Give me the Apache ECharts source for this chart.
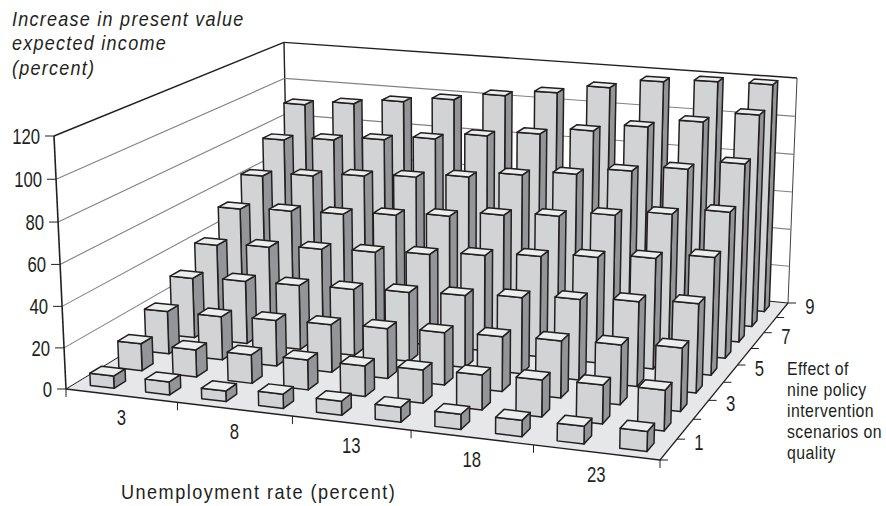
<!DOCTYPE html>
<html>
<head>
<meta charset="utf-8">
<style>
  html, body { margin: 0; padding: 0; background: #fff; }
  #chart { width: 886px; height: 506px; }
  /* canvas text has no tracking in zrender, so the svg text gets it here */
  #chart text[style*="italic"] { letter-spacing: 1.4px; }
  #chart text[style*="20.1px"] { letter-spacing: 1.65px; }
  #chart text[style*="18px"] { letter-spacing: 0.5px; }
</style>
<script src="https://cdn.jsdelivr.net/npm/echarts@6/dist/echarts.min.js"></script>
</head>
<body>
<div id="chart"></div>
<script>
const unemployment = [3, 5.5, 8, 10.5, 13, 15.5, 18, 20.5, 23, 25.5];
const scenarios = [1, 2, 3, 4, 5, 6, 7, 8, 9];
const xTickLabels = ['3', '8', '13', '18', '23'];
const yTicks = [0, 20, 40, 60, 80, 100, 120];
const depthTickLabels = ['1', '3', '5', '7', '9'];
const titleLines = ['Increase in present value', 'expected income', '(percent)'];
const depthTitleLines = ['Effect of', 'nine policy', 'intervention', 'scenarios on', 'quality'];

const scenario1 = [6, 6.3, 5.1, 6.8, 6.7, 7.1, 7.1, 7.6, 8.2, 9.2];
const scenario2 = [13.4, 13.4, 14, 14.6, 14.8, 16, 16.7, 17.5, 18.3, 19.1];
const scenario3 = [21.4, 21.7, 22.7, 23.6, 24.6, 25.6, 26.6, 27.6, 28.7, 30.3];
const scenario4 = [30.6, 31.8, 32.5, 33.3, 34.6, 35.9, 37.7, 39.6, 41.4, 43.3];
const scenario5 = [40.4, 42, 43.6, 44.7, 46.3, 48.4, 50.6, 52.8, 55, 58.1];
const scenario6 = [52.5, 53.9, 54.8, 56.8, 58.8, 61.8, 63.8, 66.8, 69.8, 73.3];
const scenario7 = [63.6, 66, 68.3, 70.1, 72.5, 75.9, 78.7, 82.6, 85.9, 90.8];
const scenario8 = [77, 79.2, 81.5, 84.2, 88, 91.2, 95, 99.2, 103.9, 109.6];
const scenario9 = [90.6, 93.2, 96.4, 99.5, 103.7, 107.3, 112, 117.1, 119.1, 119.6];
const scenarioValues = [scenario1, scenario2, scenario3, scenario4, scenario5, scenario6, scenario7, scenario8, scenario9];

const yMax = 120;
const INK = '#231f20';
const BAR_WIDTH = 0.043; // floor units along the front edge
const BAR_DEPTH = 0.045; // floor units into the page

// perspective of the box: u along the front edge, v into the page, h up, all 0..1
const persp = { u: -0.0759, v: 0.208, h: -0.0299 };
const corner = {
  origin: [66, 389],
  front: [660, 460],
  backFloor: [788, 303],
  top: [54, 136],
};
const axisX = {
  u: corner.front[0] * (1 + persp.u) - corner.origin[0],
  v: corner.backFloor[0] * (1 + persp.u + persp.v) - corner.front[0] * (1 + persp.u),
  h: corner.top[0] * (1 + persp.h) - corner.origin[0],
};
const axisY = {
  u: corner.front[1] * (1 + persp.u) - corner.origin[1],
  v: corner.backFloor[1] * (1 + persp.u + persp.v) - corner.front[1] * (1 + persp.u),
  h: corner.top[1] * (1 + persp.h) - corner.origin[1],
};

function project(u, v, h) {
  const w = 1 + persp.u * u + persp.v * v + persp.h * h;
  return [
    (corner.origin[0] + axisX.u * u + axisX.v * v + axisX.h * h) / w,
    (corner.origin[1] + axisY.u * u + axisY.v * v + axisY.h * h) / w,
  ];
}

function face(points, fill) {
  return {
    type: 'polygon',
    shape: { points },
    style: { fill, stroke: INK, lineWidth: 1.5, lineJoin: 'round' },
  };
}

function segment(p, q, stroke, lineWidth) {
  return {
    type: 'line',
    shape: { x1: p[0], y1: p[1], x2: q[0], y2: q[1] },
    style: { stroke, lineWidth, fill: null },
  };
}

// no narrow face is installed, so the text is squeezed horizontally
function label(text, x, y, font, squeeze, align) {
  return {
    type: 'text',
    x, y,
    scaleX: squeeze,
    style: {
      text,
      x: 0,
      y: 0,
      fill: INK,
      font,
      align: align || 'center',
      verticalAlign: 'middle',
    },
  };
}

const NUM_FONT = "22px 'Liberation Sans'";
const NUM_SQUEEZE = 0.76;

// back rows first so nearer bars paint over them
const barData = [];
for (let row = scenarios.length - 1; row >= 0; row--) {
  unemployment.forEach((_, col) => barData.push([col, row, scenarioValues[row][col]]));
}

function renderBar(params, api) {
  const col = api.value(0);
  const row = api.value(1);
  const h = api.value(2) / yMax;
  const u0 = (col + 0.5) / unemployment.length - BAR_WIDTH / 2;
  const u1 = u0 + BAR_WIDTH;
  const v0 = (row + 0.5) / scenarios.length - BAR_DEPTH / 2;
  const v1 = v0 + BAR_DEPTH;
  return {
    type: 'group',
    children: [
      face([project(u1, v0, 0), project(u1, v1, 0), project(u1, v1, h), project(u1, v0, h)], '#939598'),
      face([project(u0, v0, 0), project(u1, v0, 0), project(u1, v0, h), project(u0, v0, h)], '#d1d3d4'),
      face([project(u0, v0, h), project(u1, v0, h), project(u1, v1, h), project(u0, v1, h)], '#eceded'),
    ],
  };
}

function renderGrid(params, api) {
  const tick = api.value(0);
  const h = tick / yMax;
  const isTop = tick === yMax;
  const stroke = isTop ? INK : '#808285';
  const width = isTop ? 1.4 : 1.1;
  const children = [];
  if (tick > 0) {
    children.push(segment(project(0, 0, h), project(0, 1, h), stroke, width));
    children.push(segment(project(0, 1, h), project(1, 1, h), stroke, width));
  }
  return { type: 'group', children };
}

function renderBox() {
  return {
    type: 'group',
    children: [
      {
        type: 'polygon',
        shape: { points: [project(0, 0, 0), project(1, 0, 0), project(1, 1, 0), project(0, 1, 0)] },
        style: { fill: '#e6e7e8', stroke: null },
      },
      segment(project(0, 0, 0), project(0, 1, 0), INK, 1),
      segment(project(0, 1, 0), project(1, 1, 0), INK, 1),
      segment(project(0, 1, 0), project(0, 1, 1), INK, 1.4),
      segment(project(1, 1, 0), project(1, 1, 1), '#414042', 1),
    ],
  };
}

function renderAxes() {
  const children = [
    segment(project(0, 0, 0), project(0, 0, 1), INK, 1.6),
    segment(project(0, 0, 0), project(1, 0, 0), INK, 1.4),
    segment(project(1, 0, 0), project(1, 1, 0), INK, 1.2),
  ];
  yTicks.forEach((tick) => {
    const p = project(0, 0, tick / yMax);
    children.push(segment([p[0] - 9, p[1]], p, INK, 1));
    children.push(label(String(tick), p[0] - 14, p[1], NUM_FONT, NUM_SQUEEZE, 'right'));
  });
  // one tick per two categories, label centred between them
  for (let i = 0; i <= unemployment.length; i += 2) {
    const p = project(i / unemployment.length, 0, 0);
    children.push(segment(p, [p[0], p[1] + 8], INK, 1));
  }
  xTickLabels.forEach((text, i) => {
    const p = project((2 * i + 1) / unemployment.length, 0, 0);
    children.push(label(text, p[0], p[1] + 22, NUM_FONT, NUM_SQUEEZE));
  });
  for (let i = 0; i <= scenarios.length; i++) {
    const p = project(1, i / scenarios.length, 0);
    children.push(segment(p, [p[0] + 8, p[1]], INK, 1));
  }
  depthTickLabels.forEach((text, i) => {
    const p = project(1, (2 * i + 1) / scenarios.length, 0);
    children.push(label(text, p[0] + 22, p[1] + 3, NUM_FONT, NUM_SQUEEZE));
  });
  return { type: 'group', children };
}

function renderTitles() {
  const children = [];
  titleLines.forEach((text, i) => {
    children.push(label(text, 12, 19 + i * 24.5, "italic 20px 'Liberation Sans'", 0.9, 'left'));
  });
  children.push(label('Unemployment rate (percent)', 121, 492, "20.1px 'Liberation Sans'", 0.9, 'left'));
  depthTitleLines.forEach((text, i) => {
    children.push(label(text, 787, 368.7 + i * 21.2, "18px 'Liberation Sans'", 0.88, 'left'));
  });
  return { type: 'group', children };
}

const chart = echarts.init(document.getElementById('chart'), null, { renderer: 'svg' });

chart.setOption({
  animation: false,
  backgroundColor: '#fff',
  series: [
    { type: 'custom', coordinateSystem: 'none', silent: true, clip: false, z: 1, data: [0], renderItem: renderBox },
    { type: 'custom', coordinateSystem: 'none', silent: true, clip: false, z: 2, data: yTicks.map((t) => [t]), renderItem: renderGrid },
    { type: 'custom', coordinateSystem: 'none', silent: true, clip: false, z: 3, data: barData, renderItem: renderBar },
    { type: 'custom', coordinateSystem: 'none', silent: true, clip: false, z: 4, data: [0], renderItem: renderAxes },
    { type: 'custom', coordinateSystem: 'none', silent: true, clip: false, z: 5, data: [0], renderItem: renderTitles },
  ],
});
</script>
</body>
</html>
